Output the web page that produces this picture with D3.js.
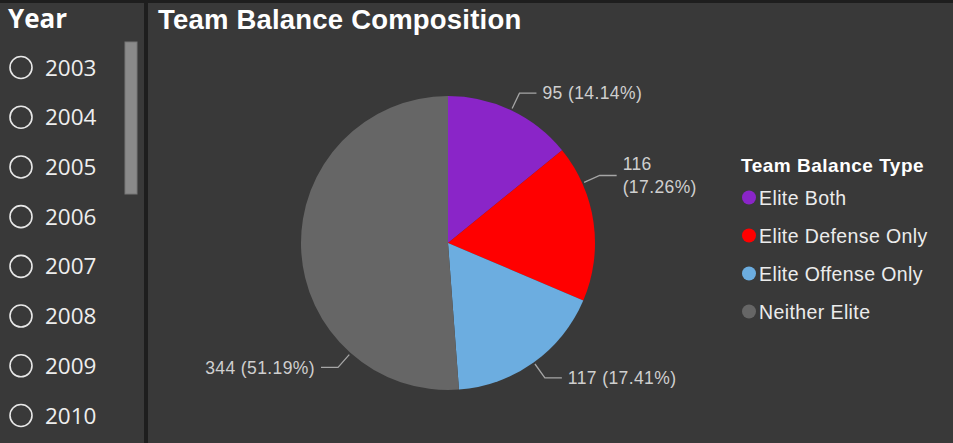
<!DOCTYPE html>
<html>
<head>
<meta charset="utf-8">
<script src="https://cdn.jsdelivr.net/npm/d3@7"></script>
<style>
  html, body { margin: 0; padding: 0; background: #393939; }
  svg { display: block; }
</style>
</head>
<body>
<svg id="chart" width="953" height="443"></svg>
<script>
// ---- Data ----
const years = ["2003", "2004", "2005", "2006", "2007", "2008", "2009", "2010"];
const categories = ["Elite Both", "Elite Defense Only", "Elite Offense Only", "Neither Elite"];
const counts = [95, 116, 117, 344];
const colors = ["#8a25c8", "#ff0000", "#6cade0", "#666666"];
const chartTitle = "Team Balance Composition";
const legendTitle = "Team Balance Type";
const slicerTitle = "Year";

// ---- Layout (positions / styles) ----
const W = 953, H = 443;
const cx = 448, cy = 243, R = 147;
const labelAngleDeg = [25.5, 66, 144.3, 221.5]; // leader anchor angles (clockwise from top)
const elbowR = 166, hLen = 17, textGap = 6;

const svg = d3.select("#chart");

// background & frames
svg.append("rect").attr("width", W).attr("height", H).attr("fill", "#393939");
svg.append("rect").attr("x", 0).attr("y", 0).attr("width", W).attr("height", 3).attr("fill", "#1e1e1e");
svg.append("rect").attr("x", 144).attr("y", 0).attr("width", 4).attr("height", H).attr("fill", "#1e1e1e");

// ---- Slicer panel ----
const slicer = svg.append("g");
slicer.append("text")
  .attr("x", 8).attr("y", 28)
  .attr("font-family", "'Open Sans', 'Liberation Sans', Arial, sans-serif")
  .attr("font-weight", "bold").attr("font-size", 26)
  .attr("fill", "#ffffff").text(slicerTitle);

const yRow = d3.scalePoint().domain(years).range([67.5, 415.5]);
const rows = slicer.selectAll("g.row").data(years).join("g")
  .attr("class", "row")
  .attr("transform", d => `translate(0,${yRow(d)})`);
rows.append("circle").attr("cx", 21).attr("cy", 0).attr("r", 11)
  .attr("fill", "none").attr("stroke", "#e8e8e8").attr("stroke-width", 1.6);
rows.append("text").attr("x", 45).attr("y", 0).attr("dy", "0.36em")
  .attr("font-family", "'Open Sans', 'Liberation Sans', Arial, sans-serif")
  .attr("font-size", 22.5).attr("fill", "#eeeeee").text(d => d);

// scrollbar
slicer.append("rect").attr("x", 125).attr("y", 42).attr("width", 12).attr("height", 152)
  .attr("fill", "#8a8a8a").attr("stroke", "#777").attr("stroke-width", 1);

// ---- Chart title ----
svg.append("text")
  .attr("x", 158).attr("y", 28.5)
  .attr("font-family", "'Liberation Sans', Arial, sans-serif")
  .attr("font-weight", "bold").attr("font-size", 27.5)
  .attr("letter-spacing", 0.2)
  .attr("fill", "#ffffff").text(chartTitle);

// ---- Pie ----
const total = d3.sum(counts);
const data = categories.map((c, i) => ({ cat: c, value: counts[i], color: colors[i], idx: i }));
const pie = d3.pie().value(d => d.value).sort(null);
const arcs = pie(data);
const arc = d3.arc().innerRadius(0).outerRadius(R);

const g = svg.append("g").attr("transform", `translate(${cx},${cy})`);
g.selectAll("path").data(arcs).join("path")
  .attr("d", arc)
  .attr("fill", d => d.data.color);

// ---- Labels ----
const fmtPct = v => (v / total * 100).toFixed(2) + "%";
const labelFont = "'Liberation Sans', Arial, sans-serif";
const labelSize = 17.5;
const legendLeft = 725;

arcs.forEach((a, i) => {
  const ang = labelAngleDeg[i] * Math.PI / 180;
  const sx = Math.sin(ang), sy = -Math.cos(ang);
  const p0 = [cx + (R + 2) * sx, cy + (R + 2) * sy];
  const p1 = [cx + elbowR * sx, cy + elbowR * sy];
  const right = sx >= 0;
  const p2 = [p1[0] + (right ? hLen : -hLen), p1[1]];
  svg.append("polyline")
    .attr("points", [p0, p1, p2].map(p => p.join(",")).join(" "))
    .attr("fill", "none").attr("stroke", "#a6a6a6").attr("stroke-width", 1.3);

  const tx = p2[0] + (right ? textGap : -textGap);
  const full = `${a.data.value} (${fmtPct(a.data.value)})`;
  const t = svg.append("text")
    .attr("x", tx).attr("y", p1[1])
    .attr("text-anchor", right ? "start" : "end")
    .attr("font-family", labelFont).attr("font-size", labelSize)
    .attr("letter-spacing", 0.4)
    .attr("fill", "#cfcfcf");
  t.append("tspan").attr("x", tx).attr("dy", "0.36em").text(full);
  const w = t.node().getComputedTextLength();
  if (right && tx + w > legendLeft) {
    t.selectAll("tspan").remove();
    const lines = [String(a.data.value), `(${fmtPct(a.data.value)})`];
    const lh = 23;
    lines.forEach((ln, k) => {
      t.append("tspan").attr("x", tx)
        .attr("y", p1[1] + (k - (lines.length - 1) / 2) * lh)
        .attr("dy", "0.36em").text(ln);
    });
  }
});

// ---- Legend ----
const lg = svg.append("g");
lg.append("text").attr("x", 741).attr("y", 172)
  .attr("font-family", labelFont).attr("font-weight", "bold").attr("font-size", 19)
  .attr("letter-spacing", 0.5)
  .attr("fill", "#ffffff").text(legendTitle);
const yLeg = d3.scalePoint().domain(categories).range([197.5, 311.5]);
const items = lg.selectAll("g.item").data(data).join("g")
  .attr("class", "item")
  .attr("transform", d => `translate(0,${yLeg(d.cat)})`);
items.append("circle").attr("cx", 749).attr("cy", 0).attr("r", 7).attr("fill", d => d.color);
items.append("text").attr("x", 759).attr("y", 0).attr("dy", "0.36em")
  .attr("font-family", labelFont).attr("font-size", 19.5)
  .attr("letter-spacing", 0.4)
  .attr("fill", "#ececec").text(d => d.cat);
</script>
</body>
</html>
